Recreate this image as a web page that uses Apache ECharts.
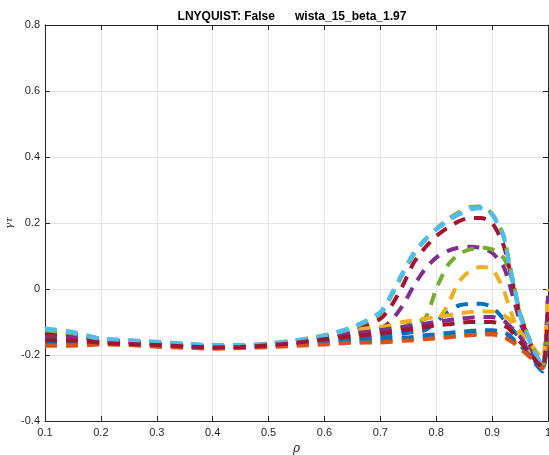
<!DOCTYPE html>
<html><head><meta charset="utf-8">
<script src="https://cdn.jsdelivr.net/npm/echarts@6/dist/echarts.min.js"></script>
<style>html,body{margin:0;padding:0;background:#fff}#c{width:549px;height:455px}</style>
</head><body><div id="c"></div>
<script>
const titleText = 'LNYQUIST: False      wista_15_beta_1.97';
const xTicks = [0.1,0.2,0.3,0.4,0.5,0.6,0.7,0.8,0.9,1];
const yTicks = [-0.4,-0.2,0,0.2,0.4,0.6,0.8];
const rho = [0.1,0.15,0.2,0.25,0.3,0.35,0.4,0.45,0.5,0.55,0.6,0.65,0.7,0.72,0.74,0.76,0.78,0.8,0.82,0.84,0.86,0.88,0.9,0.92,0.93,0.94,0.95,0.97,0.99,1.0];
// MATLAB default colour order
const colors = ['#0072BD','#D95319','#EDB120','#7E2F8E','#77AC30','#4DBEEE','#A2142F'];
const s1  = [-0.165,-0.165,-0.165,-0.168,-0.172,-0.175,-0.178,-0.176,-0.172,-0.165,-0.158,-0.15,-0.145,-0.14,-0.135,-0.13,-0.125,-0.1,-0.07,-0.05,-0.045,-0.045,-0.055,-0.09,-0.11,-0.13,-0.15,-0.2,-0.25,-0.1];
const s2  = [-0.17,-0.172,-0.168,-0.17,-0.175,-0.178,-0.18,-0.178,-0.175,-0.17,-0.165,-0.16,-0.16,-0.158,-0.155,-0.152,-0.15,-0.148,-0.144,-0.14,-0.137,-0.135,-0.135,-0.14,-0.15,-0.16,-0.17,-0.2,-0.23,-0.12];
const s3  = [-0.155,-0.155,-0.16,-0.165,-0.168,-0.172,-0.176,-0.175,-0.17,-0.16,-0.15,-0.14,-0.13,-0.125,-0.12,-0.115,-0.108,-0.1,-0.05,0.02,0.055,0.067,0.06,0.0,-0.05,-0.1,-0.14,-0.19,-0.23,-0.06];
const s4  = [-0.14,-0.14,-0.155,-0.16,-0.165,-0.17,-0.175,-0.175,-0.17,-0.16,-0.15,-0.135,-0.12,-0.095,-0.05,0.01,0.06,0.095,0.115,0.125,0.128,0.125,0.11,0.07,0.02,-0.04,-0.1,-0.18,-0.24,-0.03];
const s5  = [-0.13,-0.138,-0.155,-0.16,-0.165,-0.17,-0.174,-0.174,-0.168,-0.158,-0.148,-0.138,-0.13,-0.125,-0.115,-0.1,-0.09,0.0,0.07,0.105,0.12,0.125,0.12,0.095,0.06,0.0,-0.07,-0.17,-0.235,-0.06];
const s6  = [-0.12,-0.13,-0.15,-0.155,-0.16,-0.165,-0.17,-0.17,-0.165,-0.155,-0.14,-0.115,-0.07,-0.015,0.05,0.11,0.15,0.18,0.205,0.225,0.24,0.245,0.225,0.16,0.08,0.0,-0.08,-0.17,-0.23,-0.08];
const s7  = [-0.135,-0.142,-0.155,-0.16,-0.165,-0.17,-0.175,-0.175,-0.17,-0.16,-0.145,-0.125,-0.09,-0.05,0.01,0.08,0.125,0.16,0.185,0.205,0.215,0.215,0.2,0.135,0.07,-0.01,-0.08,-0.17,-0.24,-0.09];
const s8  = [-0.16,-0.16,-0.162,-0.166,-0.17,-0.175,-0.178,-0.177,-0.173,-0.167,-0.16,-0.155,-0.152,-0.15,-0.148,-0.145,-0.14,-0.138,-0.133,-0.13,-0.127,-0.125,-0.125,-0.13,-0.14,-0.155,-0.17,-0.21,-0.25,-0.11];
const s9  = [-0.172,-0.17,-0.166,-0.168,-0.173,-0.177,-0.18,-0.179,-0.176,-0.172,-0.168,-0.163,-0.162,-0.16,-0.157,-0.155,-0.152,-0.15,-0.147,-0.143,-0.14,-0.138,-0.138,-0.145,-0.155,-0.165,-0.18,-0.21,-0.24,-0.13];
const s10 = [-0.15,-0.15,-0.16,-0.165,-0.168,-0.172,-0.175,-0.172,-0.165,-0.155,-0.14,-0.125,-0.115,-0.11,-0.1,-0.095,-0.09,-0.085,-0.08,-0.075,-0.07,-0.068,-0.068,-0.08,-0.09,-0.11,-0.13,-0.17,-0.21,0.0];
const s11 = [-0.145,-0.148,-0.158,-0.163,-0.167,-0.171,-0.175,-0.174,-0.168,-0.158,-0.145,-0.135,-0.125,-0.12,-0.115,-0.11,-0.105,-0.1,-0.095,-0.09,-0.087,-0.085,-0.085,-0.095,-0.11,-0.125,-0.145,-0.19,-0.24,-0.02];
const s12 = [-0.125,-0.135,-0.152,-0.157,-0.162,-0.168,-0.172,-0.172,-0.167,-0.157,-0.142,-0.118,-0.075,-0.02,0.045,0.105,0.148,0.182,0.21,0.232,0.248,0.25,0.228,0.165,0.085,0.005,-0.075,-0.165,-0.235,-0.1];
const s13 = [-0.122,-0.132,-0.151,-0.156,-0.161,-0.166,-0.171,-0.171,-0.166,-0.156,-0.141,-0.117,-0.072,-0.017,0.048,0.108,0.149,0.181,0.207,0.228,0.244,0.247,0.226,0.162,0.082,0.002,-0.078,-0.168,-0.232,-0.09];
const s14 = [-0.155,-0.156,-0.163,-0.167,-0.17,-0.174,-0.177,-0.176,-0.171,-0.163,-0.152,-0.143,-0.135,-0.13,-0.125,-0.12,-0.115,-0.11,-0.107,-0.103,-0.1,-0.1,-0.1,-0.11,-0.12,-0.14,-0.16,-0.2,-0.24,-0.07];
const seriesValues = [s1,s2,s3,s4,s5,s6,s7,s8,s9,s10,s11,s12,s13,s14];

const font = 'Liberation Sans, Arial, Helvetica, sans-serif';
const axisCol = '#262626';
const chart = echarts.init(document.getElementById('c'), null, {renderer:'canvas'});
const series = seriesValues.map((vals, i) => ({
  type: 'line',
  data: rho.map((r, k) => [r, vals[k]]),
  showSymbol: false,
  symbol: 'none',
  smooth: 0.25,
  clip: true,
  lineStyle: { color: colors[i % 7], width: 4, type: [12, 9], cap: 'butt' },
  z: 3 + i
}));
chart.setOption({
  animation: false,
  backgroundColor: '#fff',
  title: {
    text: titleText, left: 287, top: 6, textAlign: 'center',
    textStyle: { fontFamily: font, fontSize: 12, fontWeight: 'bold', color: '#000' }
  },
  grid: { left: 45, right: 1, top: 25, bottom: 34, containLabel: false, outerBoundsMode: 'none' },
  xAxis: [{
    type: 'value', min: 0.1, max: 1, interval: 0.1,
    name: 'ρ', nameLocation: 'middle', nameGap: 22, nameMoveOverlap: false,
    nameTextStyle: { fontFamily: 'DejaVu Serif, serif', fontStyle: 'italic', fontSize: 12, color: axisCol },
    axisLine: { onZero: false, lineStyle: { color: axisCol, width: 1 } },
    axisTick: { inside: true, length: 5, lineStyle: { color: axisCol } },
    axisLabel: { fontFamily: font, fontSize: 11, color: axisCol, margin: 6,
      formatter: v => (Math.round(v * 10) / 10).toString() },
    splitLine: { show: true, lineStyle: { color: '#e3e3e3', width: 1 } }
  }, {
    type: 'value', min: 0.1, max: 1, interval: 0.1, position: 'top',
    axisLine: { onZero: false, lineStyle: { color: axisCol, width: 1 } },
    axisTick: { inside: true, length: 5, lineStyle: { color: axisCol } },
    axisLabel: { show: false }, splitLine: { show: false }
  }],
  yAxis: [{
    type: 'value', min: -0.4, max: 0.8, interval: 0.2,
    name: 'γτ', nameLocation: 'middle', nameGap: 31, nameRotate: 90, nameMoveOverlap: false,
    nameTextStyle: { fontFamily: 'DejaVu Serif, serif', fontStyle: 'italic', fontSize: 10, color: axisCol },
    axisLine: { onZero: false, lineStyle: { color: axisCol, width: 1 } },
    axisTick: { inside: true, length: 5, lineStyle: { color: axisCol } },
    axisLabel: { fontFamily: font, fontSize: 11, color: axisCol, margin: 5,
      formatter: v => (Math.round(v * 10) / 10).toString() },
    splitLine: { show: true, lineStyle: { color: '#e3e3e3', width: 1 } }
  }, {
    type: 'value', min: -0.4, max: 0.8, interval: 0.2, position: 'right',
    axisLine: { onZero: false, lineStyle: { color: axisCol, width: 1 } },
    axisTick: { inside: true, length: 5, lineStyle: { color: axisCol } },
    axisLabel: { show: false }, splitLine: { show: false }
  }],
  series: series
});
</script></body></html>
